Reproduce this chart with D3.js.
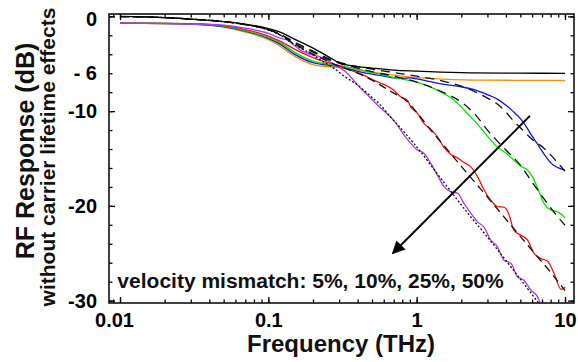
<!DOCTYPE html>
<html><head><meta charset="utf-8">
<script src="https://cdn.jsdelivr.net/npm/d3@7/dist/d3.min.js"></script>
<style>
html,body{margin:0;padding:0;background:#fff;}
svg{display:block;font-family:"Liberation Sans",Arial,Helvetica,sans-serif;font-weight:bold;}
</style></head>
<body><svg id="c" width="578" height="362"></svg>
<script>
// ---------- data (frequency THz, response dB) ----------
const xTickValues = [0.01, 0.1, 1, 10];
const xTickLabels = ["0.01", "0.1", "1", "10"];
const yTickValues = [0, -6, -10, -20, -30];
const yTickLabels = ["0", "- 6", "-10", "-20", "-30"];
const annotationText = "velocity mismatch: 5%, 10%, 25%, 50%";
const xTitle = "Frequency (THz)";
const yTitle = "RF Response (dB)";
const yTitle2 = "without carrier lifetime effects";

const blackSolid = [[0.01,0],[0.02,-0.13],[0.03,-0.29],[0.05,-0.55],[0.07,-0.81],[0.1,-1.29],[0.12,-1.66],[0.15,-2.4],[0.2,-3.35],[0.25,-4.19],[0.3,-4.9],[0.4,-5.3],[0.5,-5.46],[0.7,-5.67],[1,-5.78],[2,-5.93],[5,-5.99],[10,-6.02]];
const orange = [[0.01,-0.71],[0.02,-0.74],[0.03,-0.81],[0.05,-1.13],[0.07,-1.66],[0.1,-2.45],[0.12,-3.14],[0.15,-4.19],[0.2,-5.09],[0.25,-5.3],[0.3,-5.41],[0.4,-5.67],[0.5,-5.88],[0.7,-6.2],[1,-6.46],[1.5,-6.62],[3,-6.73],[10,-6.76]];
const blue = [[0.01,-0.71],[0.02,-0.74],[0.03,-0.81],[0.05,-1.08],[0.07,-1.55],[0.1,-2.32],[0.12,-2.93],[0.15,-3.98],[0.2,-4.88],[0.25,-5.14],[0.3,-5.3],[0.4,-5.8],[0.5,-6.1],[0.6,-6.3],[0.7,-6.5],[0.8,-6.55],[0.9,-6.5],[1,-6.6],[1.2,-6.85],[1.5,-7.15],[2,-7.44],[2.5,-7.78],[3,-8.26],[3.5,-8.73],[4,-9.37],[4.45,-10.0],[5.04,-10.85],[5.45,-11.58],[6,-12.64],[6.47,-13.38],[7,-14.22],[7.56,-14.96],[8.04,-15.49],[8.97,-15.97],[10,-16.23]];
const green = [[0.01,-0.71],[0.03,-0.78],[0.05,-1.02],[0.07,-1.5],[0.1,-2.22],[0.12,-2.77],[0.15,-3.77],[0.2,-4.72],[0.25,-5.04],[0.3,-5.2],[0.4,-5.57],[0.5,-5.93],[0.6,-6.2],[0.7,-6.46],[0.8,-6.62],[1,-6.94],[1.2,-7.36],[1.5,-8.1],[1.75,-8.73],[2,-9.58],[2.25,-10.42],[2.5,-11.16],[2.84,-12.19],[3.16,-13.06],[3.5,-13.8],[4,-14.43],[4.45,-15.07],[5.04,-15.81],[5.6,-16.23],[6,-16.86],[6.54,-18.13],[7.2,-19.71],[8.04,-20.45],[8.93,-20.63],[9.85,-21.16],[10,-21.3]];
const red = [[0.01,-0.71],[0.03,-0.78],[0.05,-0.97],[0.07,-1.39],[0.1,-2.08],[0.12,-2.61],[0.15,-3.45],[0.2,-4.35],[0.25,-4.88],[0.3,-5.2],[0.358,-5.67],[0.4385,-6.2],[0.512,-6.73],[0.571,-7.04],[0.699,-7.78],[0.78,-8.49],[0.865,-8.84],[0.911,-9.55],[1.011,-10.21],[1.115,-11.27],[1.243,-11.9],[1.387,-12.75],[1.522,-13.8],[1.697,-14.54],[1.892,-14.96],[2.078,-15.39],[2.317,-15.88],[2.584,-16.97],[2.836,-18.24],[3.162,-19.4],[3.51,-20.08],[3.87,-20.14],[4.183,-20.88],[4.522,-22.56],[5.043,-23.09],[5.598,-23.62],[6.173,-24.99],[6.882,-25.57],[7.639,-25.84],[8.428,-27.11],[9.397,-28.8],[9.845,-28.69],[10,-28.55]];
const purple = [[0.01,-0.71],[0.03,-0.81],[0.05,-0.92],[0.07,-1.24],[0.1,-1.8],[0.12,-2.29],[0.134,-2.5],[0.1645,-3.56],[0.2,-4.09],[0.2246,-4.3],[0.275,-5.04],[0.307,-5.46],[0.342,-6.02],[0.375,-6.73],[0.418,-7.57],[0.467,-8.31],[0.512,-8.94],[0.571,-9.68],[0.637,-10.32],[0.699,-10.95],[0.78,-12.0],[0.843,-12.75],[0.911,-13.38],[1.011,-14.11],[1.115,-14.43],[1.243,-15.49],[1.38,-16.76],[1.522,-17.92],[1.697,-18.52],[1.884,-18.66],[2.078,-19.71],[2.317,-20.77],[2.572,-21.69],[2.836,-22.22],[3.162,-23.62],[3.51,-24.33],[3.87,-25.73],[4.316,-26.05],[4.79,-27.5],[5.284,-27.84],[5.893,-28.9],[6.538,-29.61],[6.882,-30.49]];
const fit5 = [[0.01,-0.02],[0.02,-0.13],[0.03,-0.29],[0.05,-0.55],[0.07,-0.87],[0.1,-1.39],[0.12,-1.87],[0.15,-2.71],[0.2,-3.66],[0.25,-4.4],[0.3,-4.83],[0.4,-5.3],[0.5,-5.57],[0.7,-5.93],[1,-6.3],[1.5,-6.83],[2,-7.36],[2.5,-7.99],[3,-8.63],[3.5,-9.26],[4,-10.1],[4.45,-10.95],[5.04,-11.8],[5.98,-12.96],[7.21,-13.91],[8.04,-14.64],[8.97,-15.49],[10,-16.34]];
const fit10 = [[0.01,-0.02],[0.02,-0.13],[0.03,-0.29],[0.05,-0.55],[0.07,-0.87],[0.1,-1.39],[0.12,-1.9],[0.15,-2.82],[0.2,-3.77],[0.25,-4.51],[0.3,-4.93],[0.4,-5.46],[0.5,-5.83],[0.7,-6.3],[1,-6.94],[1.5,-7.99],[2,-9.05],[2.5,-10.42],[3,-12.0],[3.5,-13.17],[4,-14.11],[5,-15.7],[6,-17.49],[7,-18.97],[8.04,-20.24],[8.97,-21.19],[10,-22.04]];
const fit25 = [[0.01,-0.02],[0.02,-0.13],[0.03,-0.29],[0.05,-0.55],[0.07,-0.87],[0.1,-1.4],[0.12,-1.95],[0.15,-2.92],[0.2,-3.98],[0.25,-4.72],[0.3,-5.25],[0.4,-5.99],[0.5,-6.73],[0.6,-7.47],[0.7,-8.1],[0.843,-8.84],[1.011,-10.21],[1.243,-11.99],[1.62,-14.11],[2,-15.83],[2.706,-18.24],[3.695,-20.77],[5.043,-23.3],[6.569,-25.42],[8.043,-27.05],[10,-28.94]];
const fit50 = [[0.01,-0.02],[0.02,-0.13],[0.03,-0.29],[0.05,-0.55],[0.07,-0.87],[0.1,-1.45],[0.12,-1.97],[0.1408,-2.71],[0.1645,-3.35],[0.1922,-3.88],[0.2246,-4.61],[0.2749,-5.46],[0.3314,-6.41],[0.4,-7.25],[0.4889,-8.42],[0.5712,-9.37],[0.6673,-10.63],[0.7797,-11.79],[0.9544,-13.38],[1.522,-17.49],[2.211,-20.77],[3.162,-23.73],[4.183,-26.16],[6.569,-30.17]];
const arrowStart = [5.8, -10.5];
const arrowEnd = [0.69, -25.0];
const annotationPos = [0.0096, -28.65];

// ---------- layout ----------
const svg = d3.select("#c");
const L = 109, R = 574, T = 14, B = 303;
const x = d3.scaleLog().domain([0.00843, 11.5]).range([L, R]);
const y = d3.scaleLinear().domain([-30.25, 0.25]).range([B, T]);

svg.append("defs").append("clipPath").attr("id","clip")
  .append("rect").attr("x",L).attr("y",T).attr("width",R-L).attr("height",B-T);

const line = d3.line().x(d=>x(d[0])).y(d=>y(d[1])).curve(d3.curveMonotoneX);
const plot = svg.append("g").attr("clip-path","url(#clip)");

const colored = [
  {d: orange, c: "#ff8a00"},
  {d: blue, c: "#1010ff"},
  {d: green, c: "#00e000"},
  {d: red, c: "#ff1010"},
  {d: purple, c: "#a040f0"}
];
colored.forEach(s => plot.append("path").attr("d", line(s.d)).attr("fill","none")
  .attr("stroke", s.c).attr("stroke-width", 1.3));

const fits = [
  {d: fit5, dash: "9,6"},
  {d: fit10, dash: "9,6"},
  {d: fit25, dash: "8,5"},
  {d: fit50, dash: "2,2"}
];
fits.forEach(s => plot.append("path").attr("d", line(s.d)).attr("fill","none")
  .attr("stroke", "#111").attr("stroke-width", 1.3).attr("stroke-dasharray", s.dash));
plot.append("path").attr("d", line(blackSolid)).attr("fill","none")
  .attr("stroke","#000").attr("stroke-width",1.3);

// ---------- axes ----------
const decades = [-3,-2,-1,0,1];
const xMinor = [];
decades.forEach(e => d3.range(1,10).forEach(k => { const v = k*Math.pow(10,e); if (v>=x.domain()[0] && v<=x.domain()[1]) xMinor.push(v); }));
const yMinor = d3.range(-30, 1, 2);
const yMajor = [0, -10, -20, -30];

function ax(gen, tx, ty, vals, size) {
  const g = svg.append("g").attr("transform",`translate(${tx},${ty})`)
    .call(gen.tickValues(vals).tickSizeInner(size).tickSizeOuter(0).tickFormat(""));
  g.select(".domain").remove();
  g.selectAll(".tick line").attr("stroke","#000").attr("stroke-width",1.3);
  return g;
}
ax(d3.axisBottom(x), 0, B, xMinor, -3.5);
ax(d3.axisBottom(x), 0, B, xTickValues, -6);
ax(d3.axisTop(x), 0, T, xMinor, -3.5);
ax(d3.axisTop(x), 0, T, xTickValues, -6);
ax(d3.axisLeft(y), L, 0, yMinor, -3.5);
ax(d3.axisLeft(y), L, 0, yMajor, -6);
ax(d3.axisRight(y), R, 0, yMinor, -3.5);
ax(d3.axisRight(y), R, 0, yMajor, -6);

// labels
const xl = svg.append("g").attr("transform",`translate(0,${B})`)
  .call(d3.axisBottom(x).tickValues(xTickValues).tickSize(0).tickPadding(10)
    .tickFormat((d,i)=>xTickLabels[i]));
xl.select(".domain").remove();
xl.selectAll("text").attr("font-size",20).attr("font-weight","bold")
  .attr("font-family",'"Liberation Sans",Arial,sans-serif').attr("fill","#000")
  .attr("dx",(d,i)=> i===0 ? -6 : 0);

const yl = svg.append("g").attr("transform",`translate(${L},0)`)
  .call(d3.axisLeft(y).tickValues(yTickValues).tickSize(0).tickPadding(12)
    .tickFormat((d,i)=>yTickLabels[i]));
yl.select(".domain").remove();
yl.selectAll("text").attr("font-size",20).attr("font-weight","bold")
  .attr("font-family",'"Liberation Sans",Arial,sans-serif').attr("fill","#000")
  .attr("dy",(d,i)=> i===0 ? "0.47em" : "0.33em");

// frame
svg.append("rect").attr("x",L).attr("y",T).attr("width",R-L).attr("height",B-T)
  .attr("fill","none").attr("stroke","#111").attr("stroke-width",1.6);

// arrow
svg.append("defs").append("marker").attr("id","ah").attr("viewBox","0 0 10 10")
  .attr("refX",9).attr("refY",5).attr("markerWidth",8).attr("markerHeight",6.5)
  .attr("markerUnits","strokeWidth").attr("orient","auto")
  .append("path").attr("d","M0,0 L10,5 L0,10 Z").attr("fill","#000");
svg.append("line").attr("x1",x(arrowStart[0])).attr("y1",y(arrowStart[1]))
  .attr("x2",x(arrowEnd[0])).attr("y2",y(arrowEnd[1]))
  .attr("stroke","#000").attr("stroke-width",2).attr("marker-end","url(#ah)");

// annotation
svg.append("text").attr("x",x(annotationPos[0])).attr("y",y(annotationPos[1]))
  .attr("font-size",21).attr("fill","#111").text(annotationText);

// titles
svg.append("text").attr("x",341).attr("y",352).attr("text-anchor","middle")
  .attr("font-size",24).attr("fill","#111").text(xTitle);
svg.append("text").attr("transform","translate(33.5,151) rotate(-90)").attr("text-anchor","middle")
  .attr("font-size",25).attr("fill","#111").text(yTitle);
svg.append("text").attr("transform","translate(55,157) rotate(-90)").attr("text-anchor","middle")
  .attr("font-size",21).attr("fill","#111").text(yTitle2);
</script>
</body></html>
